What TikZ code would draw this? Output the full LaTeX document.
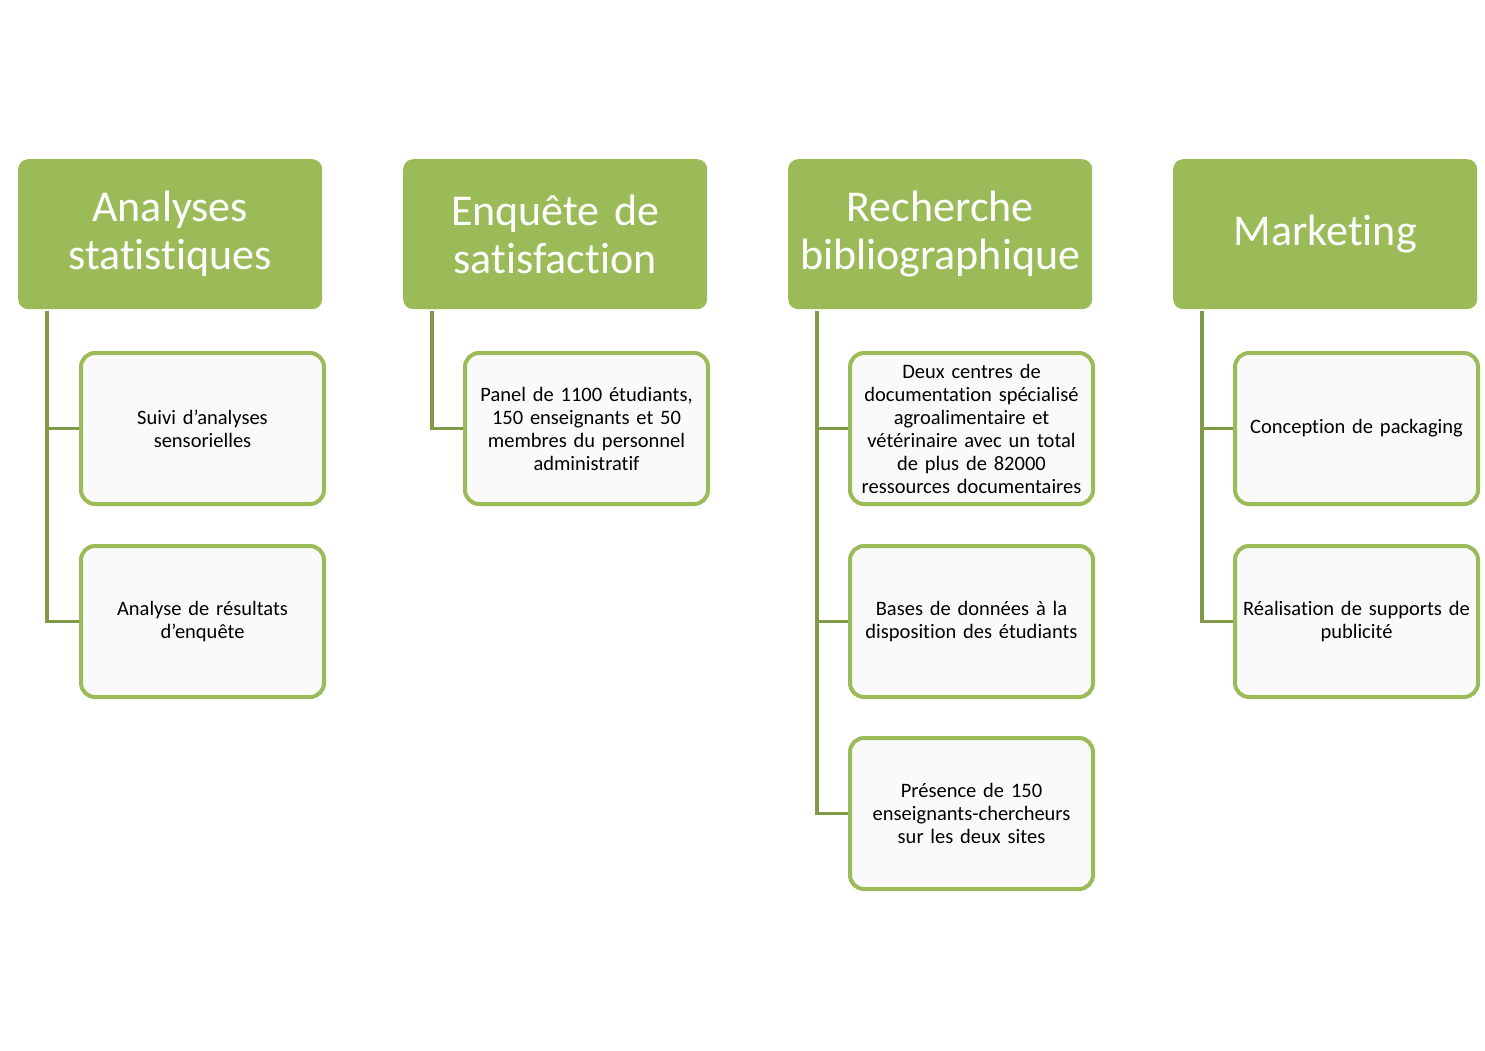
\documentclass[tikz,border=0pt]{standalone}
\usepackage{fontspec}
\setmainfont{Carlito}[RawFeature={-liga;-clig;-calt;-dlig}]
\definecolor{hdr}{HTML}{9BBB59}
\definecolor{conn}{HTML}{7F9A48}
\definecolor{cfill}{HTML}{FAFAFA}
\begin{document}
\begin{tikzpicture}[x=1pt,y=-1pt,
  hdrbox/.style={fill=hdr,draw=none,rounded corners=10pt,minimum width=304pt,minimum height=150pt,anchor=north west,inner sep=0pt,text=white,font=\fontsize{44}{48}\selectfont,align=center,text width=300pt},
  childbox/.style={fill=cfill,draw=hdr,line width=4pt,rounded corners=14pt,minimum width=243pt,minimum height=151pt,anchor=north west,inner sep=0pt,font=\fontsize{20.5}{23}\selectfont,align=center,text width=238pt},
  link/.style={draw=conn,line width=3.5pt}]
\useasboundingbox (0,0) rectangle (1485,1050);
% headers
\node[hdrbox] (h1) at (18,159) {Analyses\\statistiques};
\node[hdrbox] (h2) at (403,159) {Enquête de\\satisfaction};
\node[hdrbox] (h3) at (788,159) {Recherche\\bibliographique};
\node[hdrbox] (h4) at (1173,159) {Marketing};
% children
\node[childbox] (c11) at (79,351) {Suivi d’analyses\\sensorielles};
\node[childbox] (c12) at (79,544) {Analyse de résultats\\d’enquête};
\node[childbox] (c21) at (463,351) {Panel de 1100 étudiants,\\150 enseignants et 50\\membres du personnel\\administratif};
\node[childbox] (c31) at (848,351) {Deux centres de\\documentation spécialisé\\agroalimentaire et\\vétérinaire avec un total\\de plus de 82000\\ressources documentaires};
\node[childbox] (c32) at (848,544) {Bases de données à la\\disposition des étudiants};
\node[childbox] (c33) at (848,736) {Présence de 150\\enseignants-chercheurs\\sur les deux sites};
\node[childbox] (c41) at (1233,351) {Conception de packaging};
\node[childbox] (c42) at (1233,544) {Réalisation de supports de\\publicité};
% connectors
\coordinate (t1) at (47,311);
\coordinate (t2) at (432,311);
\coordinate (t3) at (817,311);
\coordinate (t4) at (1202,311);
\draw[link] (t1) |- (c11.west);
\draw[link] (t1) |- (c12.west);
\draw[link] (t2) |- (c21.west);
\draw[link] (t3) |- (c31.west);
\draw[link] (t3) |- (c32.west);
\draw[link] (t3) |- (c33.west);
\draw[link] (t4) |- (c41.west);
\draw[link] (t4) |- (c42.west);
\end{tikzpicture}
\end{document}
